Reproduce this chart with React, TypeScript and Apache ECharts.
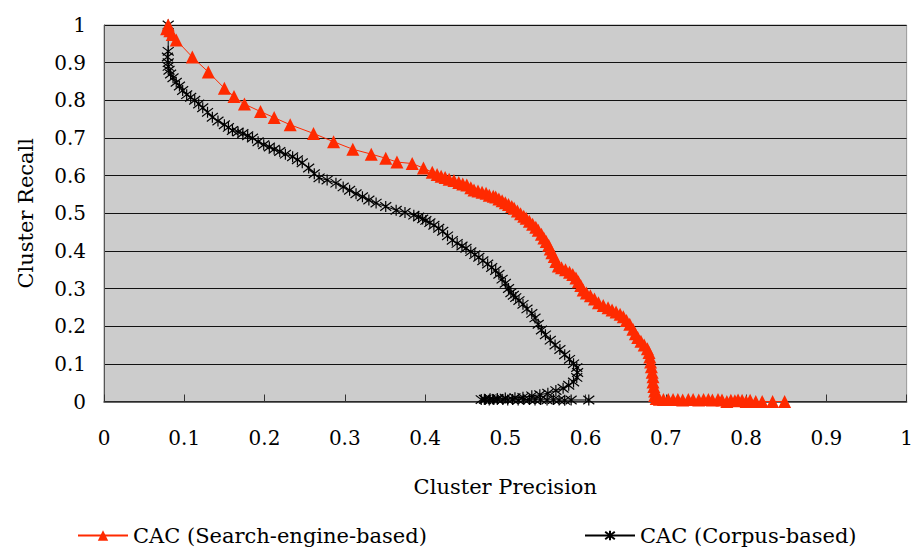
import React, { useEffect, useRef } from "react";
import * as echarts from "echarts";

const xTicks = [0, 0.1, 0.2, 0.3, 0.4, 0.5, 0.6, 0.7, 0.8, 0.9, 1];
const seriesNames = ["CAC (Search-engine-based)", "CAC (Corpus-based)"];

// [precision, recall]
const searchEngine: number[][] = [
  [0.08, 1.0], [0.078, 0.99], [0.082, 0.985], [0.085, 0.975], [0.09, 0.96], [0.11, 0.915],
  [0.13, 0.875], [0.15, 0.832], [0.162, 0.81], [0.175, 0.79], [0.195, 0.77], [0.212, 0.754],
  [0.232, 0.735], [0.261, 0.712], [0.286, 0.69], [0.31, 0.67], [0.333, 0.657], [0.351, 0.646],
  [0.365, 0.636], [0.384, 0.632], [0.398, 0.62], [0.409, 0.609], [0.415, 0.603], [0.42, 0.598],
  [0.425, 0.595], [0.43, 0.59], [0.436, 0.587], [0.442, 0.582], [0.447, 0.578], [0.452, 0.575],
  [0.457, 0.568], [0.461, 0.562], [0.466, 0.559], [0.471, 0.556], [0.476, 0.553], [0.48, 0.548],
  [0.485, 0.545], [0.488, 0.543], [0.492, 0.538], [0.496, 0.533], [0.5, 0.528], [0.504, 0.523],
  [0.508, 0.518], [0.511, 0.513], [0.515, 0.506], [0.519, 0.499], [0.523, 0.492], [0.526, 0.487],
  [0.53, 0.479], [0.534, 0.471], [0.538, 0.463], [0.541, 0.455], [0.545, 0.444], [0.548, 0.434],
  [0.551, 0.425], [0.554, 0.415], [0.556, 0.405], [0.558, 0.395], [0.561, 0.385], [0.563, 0.372],
  [0.566, 0.36], [0.57, 0.355], [0.575, 0.35], [0.58, 0.343], [0.584, 0.337], [0.588, 0.328],
  [0.591, 0.318], [0.594, 0.308], [0.597, 0.296], [0.601, 0.288], [0.606, 0.281], [0.611, 0.272],
  [0.616, 0.262], [0.622, 0.255], [0.628, 0.249], [0.633, 0.243], [0.638, 0.238], [0.643, 0.232],
  [0.647, 0.225], [0.651, 0.215], [0.655, 0.205], [0.659, 0.192], [0.662, 0.18], [0.665, 0.17],
  [0.669, 0.16], [0.673, 0.15], [0.677, 0.14], [0.679, 0.13], [0.68, 0.118], [0.681, 0.105],
  [0.682, 0.092], [0.683, 0.078], [0.684, 0.066], [0.684, 0.052], [0.685, 0.04], [0.686, 0.028],
  [0.686, 0.016], [0.688, 0.008], [0.692, 0.006], [0.697, 0.005], [0.703, 0.005], [0.709, 0.005],
  [0.715, 0.005], [0.721, 0.004], [0.728, 0.005], [0.734, 0.005], [0.741, 0.004], [0.747, 0.005],
  [0.753, 0.005], [0.758, 0.004], [0.765, 0.005], [0.77, 0.004], [0.776, 0.0], [0.781, 0.003],
  [0.786, 0.002], [0.79, 0.004], [0.795, 0.003], [0.8, 0.0], [0.805, 0.003], [0.812, 0.0],
  [0.82, 0.0], [0.833, 0.0], [0.848, 0.0],
];

const corpus: number[][] = [
  [0.08, 1.0], [0.08, 0.93], [0.079, 0.915], [0.08, 0.9], [0.08, 0.89], [0.081, 0.88], [0.083, 0.87],
  [0.086, 0.86], [0.09, 0.848], [0.094, 0.838], [0.098, 0.826], [0.103, 0.815], [0.108, 0.808],
  [0.113, 0.8], [0.118, 0.79], [0.123, 0.78], [0.129, 0.768], [0.135, 0.755], [0.142, 0.745],
  [0.15, 0.735], [0.155, 0.728], [0.16, 0.72], [0.167, 0.716], [0.173, 0.712], [0.179, 0.706],
  [0.185, 0.7], [0.192, 0.69], [0.199, 0.682], [0.206, 0.676], [0.212, 0.67], [0.219, 0.664],
  [0.226, 0.657], [0.235, 0.65], [0.241, 0.642], [0.247, 0.634], [0.255, 0.62], [0.262, 0.605],
  [0.268, 0.594], [0.278, 0.588], [0.289, 0.58], [0.298, 0.57], [0.306, 0.561], [0.314, 0.552],
  [0.322, 0.544], [0.33, 0.535], [0.339, 0.527], [0.351, 0.518], [0.364, 0.508], [0.375, 0.502],
  [0.386, 0.495], [0.392, 0.49], [0.397, 0.485], [0.401, 0.481], [0.406, 0.475], [0.411, 0.468],
  [0.417, 0.46], [0.422, 0.452], [0.428, 0.44], [0.434, 0.428], [0.44, 0.42], [0.446, 0.413],
  [0.451, 0.407], [0.457, 0.398], [0.462, 0.39], [0.467, 0.383], [0.472, 0.374], [0.478, 0.365],
  [0.483, 0.356], [0.488, 0.348], [0.492, 0.338], [0.496, 0.325], [0.5, 0.314], [0.504, 0.3],
  [0.507, 0.289], [0.51, 0.282], [0.513, 0.276], [0.517, 0.268], [0.522, 0.258], [0.527, 0.246],
  [0.533, 0.234], [0.537, 0.222], [0.541, 0.205], [0.545, 0.19], [0.55, 0.177], [0.556, 0.163],
  [0.562, 0.15], [0.568, 0.138], [0.574, 0.124], [0.58, 0.112], [0.585, 0.1], [0.589, 0.09],
  [0.59, 0.077], [0.589, 0.064], [0.585, 0.052], [0.579, 0.043], [0.572, 0.035], [0.563, 0.029],
  [0.553, 0.022], [0.543, 0.018], [0.533, 0.015], [0.522, 0.011], [0.512, 0.01], [0.5, 0.009],
  [0.49, 0.008], [0.481, 0.007], [0.474, 0.006], [0.47, 0.005], [0.475, 0.005], [0.48, 0.004],
  [0.485, 0.005], [0.49, 0.005], [0.497, 0.005], [0.503, 0.004], [0.509, 0.005], [0.516, 0.004],
  [0.523, 0.005], [0.53, 0.005], [0.537, 0.004], [0.544, 0.005], [0.552, 0.004], [0.56, 0.005],
  [0.567, 0.004], [0.574, 0.003], [0.582, 0.004], [0.604, 0.004],
];

const FONT = "DejaVu Serif";
const RED = "#ff2a00";
const ASTERISK = "path://M0 0L10 10M10 0L0 10M5 -1.5L5 11.5";

export default function App() {
  const ref = useRef<HTMLDivElement>(null);
  useEffect(() => {
    if (!ref.current) return;
    const chart = echarts.init(ref.current, undefined, { renderer: "svg" });
    chart.setOption({
      animation: false,
      backgroundColor: "#ffffff",
      textStyle: { fontFamily: FONT, color: "#000" },
      grid: {
        left: 104,
        right: 8,
        top: 25,
        bottom: 146.5,
        show: true,
        backgroundColor: "#cccccc",
        borderColor: "#999999",
        borderWidth: 1,
      },
      legend: [
        {
          data: [seriesNames[0]],
          left: 72,
          top: 520,
          itemWidth: 50,
          itemHeight: 13,
          itemGap: 4,
          textStyle: { fontFamily: FONT, fontSize: 21, color: "#000" },
        },
        {
          data: [seriesNames[1]],
          left: 579,
          top: 520,
          itemWidth: 50,
          itemHeight: 12,
          textStyle: { fontFamily: FONT, fontSize: 21, color: "#000" },
        },
      ],
      xAxis: {
        type: "value",
        min: 0,
        max: 1,
        interval: 0.1,
        name: "Cluster Precision",
        nameLocation: "middle",
        nameGap: 75,
        nameTextStyle: { fontFamily: FONT, fontSize: 21, color: "#000" },
        axisLine: { show: true, onZero: false, lineStyle: { color: "#333", width: 1.5 } },
        axisTick: { show: true, inside: true, length: 7, lineStyle: { color: "#333" } },
        axisLabel: {
          fontFamily: FONT,
          fontSize: 20,
          color: "#000",
          margin: 26,
          formatter: (v: number) => {
            const t = xTicks.find((x) => Math.abs(x - v) < 1e-6);
            return t === undefined ? "" : String(t);
          },
        },
        splitLine: { show: false },
      },
      yAxis: {
        type: "value",
        min: 0,
        max: 1,
        interval: 0.1,
        name: "Cluster Recall",
        nameLocation: "middle",
        nameGap: 68,
        nameTextStyle: { fontFamily: FONT, fontSize: 21, color: "#000" },
        axisLine: { show: true, lineStyle: { color: "#555", width: 1 } },
        axisTick: { show: false },
        axisLabel: { fontFamily: FONT, fontSize: 20, color: "#000", margin: 18 },
        splitLine: { show: true, lineStyle: { color: "#111", width: 1.2 } },
      },
      series: [
        {
          name: seriesNames[0],
          type: "line",
          data: searchEngine,
          symbol: "triangle",
          symbolSize: 13,
          lineStyle: { color: RED, width: 1 },
          itemStyle: { color: RED },
          z: 3,
        },
        {
          name: seriesNames[1],
          type: "line",
          data: corpus,
          symbol: ASTERISK,
          symbolSize: 11,
          lineStyle: { color: "#000", width: 1 },
          itemStyle: { color: "#000", borderColor: "#000", borderWidth: 1.2 },
          z: 2,
        },
      ],
    });
    return () => chart.dispose();
  }, []);
  return <div ref={ref} style={{ width: 916, height: 548, position: "absolute", left: 0, top: 0 }} />;
}
